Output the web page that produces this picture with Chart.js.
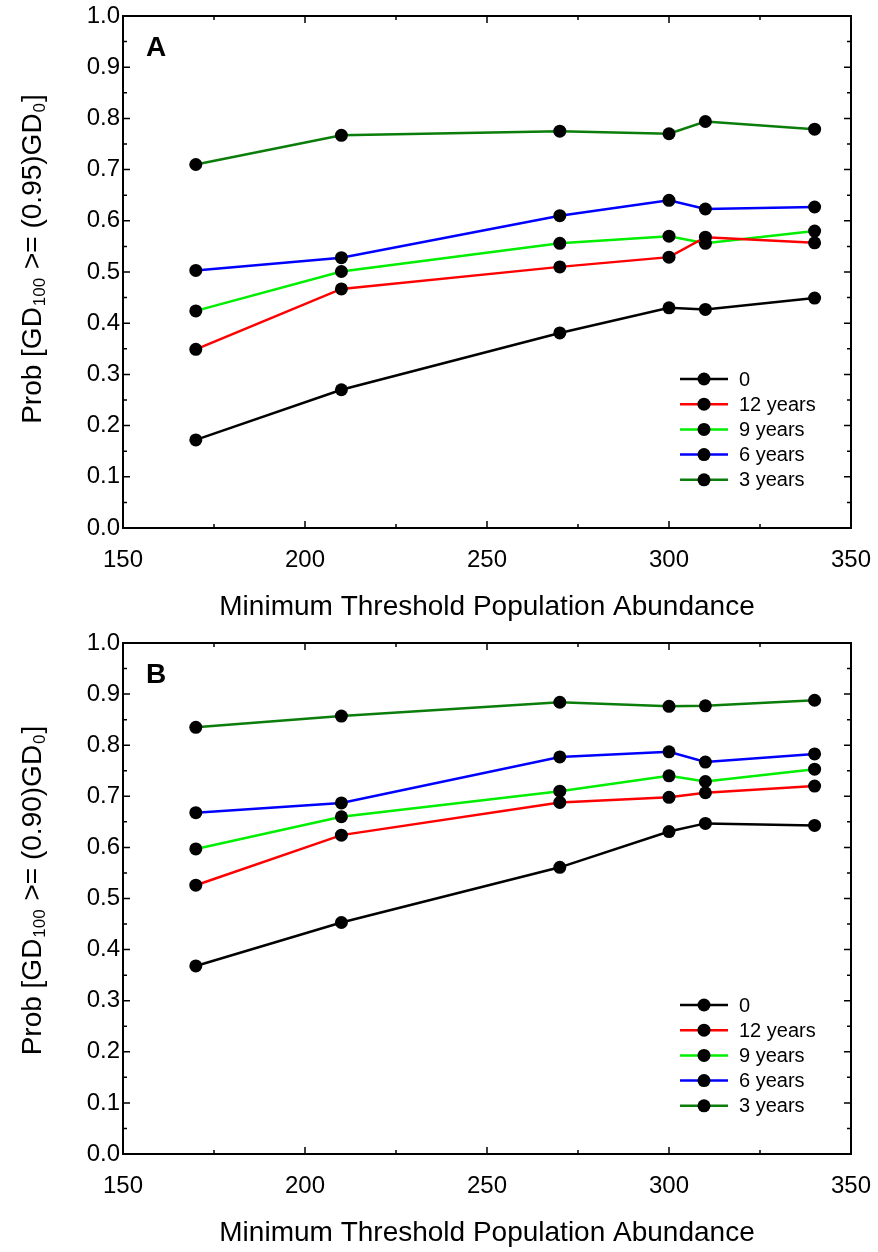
<!DOCTYPE html>
<html>
<head>
<meta charset="utf-8">
<script src="https://cdn.jsdelivr.net/npm/chart.js@4.4.1/dist/chart.umd.min.js"></script>
<style>
  html, body { margin: 0; padding: 0; background: #ffffff; }
  .panel { position: relative; width: 878px; height: 626px; }
</style>
</head>
<body>
<div class="panel"><canvas id="panelA"></canvas></div>
<div class="panel"><canvas id="panelB"></canvas></div>
<script>
// Minimum threshold population abundance (x positions of the simulations)
const thresholds = [170, 210, 270, 300, 310, 340];

// Series names and line colours
const seriesLabels = ['0', '12 years', '9 years', '6 years', '3 years'];
const seriesColors = ['#000000', '#ff0000', '#00ee00', '#0000ff', '#0a7d0a'];

// Panel A: Prob[GD100 >= (0.95)GD0]
const probA_0  = [0.172, 0.270, 0.381, 0.430, 0.427, 0.449];
const probA_12 = [0.349, 0.467, 0.510, 0.529, 0.568, 0.557];
const probA_9  = [0.424, 0.501, 0.556, 0.570, 0.556, 0.580];
const probA_6  = [0.503, 0.528, 0.610, 0.640, 0.623, 0.627];
const probA_3  = [0.710, 0.767, 0.775, 0.770, 0.794, 0.779];

// Panel B: Prob[GD100 >= (0.90)GD0]
const probB_0  = [0.368, 0.453, 0.561, 0.631, 0.647, 0.643];
const probB_12 = [0.526, 0.624, 0.688, 0.698, 0.707, 0.720];
const probB_9  = [0.597, 0.660, 0.710, 0.740, 0.729, 0.753];
const probB_6  = [0.668, 0.687, 0.777, 0.787, 0.767, 0.783];
const probB_3  = [0.835, 0.857, 0.884, 0.876, 0.877, 0.888];

// Axis tick values
const xTicks = [150, 200, 250, 300, 350];
const yTicks = [0.0, 0.1, 0.2, 0.3, 0.4, 0.5, 0.6, 0.7, 0.8, 0.9, 1.0];

const FONT = '"Liberation Sans", Arial, Helvetica, sans-serif';

// Frame with inward major/minor tick marks on all four sides
const framePlugin = {
  id: 'frameTicks',
  afterDatasetsDraw(chart) {
    const {ctx, chartArea: a, scales: {x, y}} = chart;
    ctx.save();
    ctx.strokeStyle = '#000';
    ctx.lineWidth = 1.5;
    const majorLen = 7, minorLen = 4;
    for (let v = 150; v <= 350; v += 25) {
      const px = x.getPixelForValue(v);
      const len = (v % 50 === 0) ? majorLen : minorLen;
      ctx.beginPath();
      ctx.moveTo(px, a.bottom); ctx.lineTo(px, a.bottom - len);
      ctx.moveTo(px, a.top); ctx.lineTo(px, a.top + len);
      ctx.stroke();
    }
    for (let i = 0; i <= 20; i++) {
      const py = y.getPixelForValue(i * 0.05);
      const len = (i % 2 === 0) ? majorLen : minorLen;
      ctx.beginPath();
      ctx.moveTo(a.left, py); ctx.lineTo(a.left + len, py);
      ctx.moveTo(a.right, py); ctx.lineTo(a.right - len, py);
      ctx.stroke();
    }
    ctx.lineWidth = 2;
    ctx.strokeRect(a.left, a.top, a.right - a.left, a.bottom - a.top);
    ctx.restore();
  }
};

// Legend drawn inside the plot area, lower right
const insideLegend = {
  id: 'insideLegend',
  afterDatasetsDraw(chart, args, opts) {
    const {ctx} = chart;
    ctx.save();
    ctx.font = '20px ' + FONT;
    ctx.textBaseline = 'middle';
    ctx.textAlign = 'left';
    chart.data.datasets.forEach((ds, i) => {
      const yy = opts.top + i * opts.spacing;
      ctx.strokeStyle = ds.borderColor;
      ctx.lineWidth = 2.5;
      ctx.beginPath();
      ctx.moveTo(opts.left, yy); ctx.lineTo(opts.left + 48, yy);
      ctx.stroke();
      ctx.fillStyle = '#000';
      ctx.beginPath();
      ctx.arc(opts.left + 24, yy, 6.5, 0, Math.PI * 2);
      ctx.fill();
      ctx.fillText(ds.label, opts.left + 59, yy + 1);
    });
    ctx.restore();
  }
};

// Panel letter and rotated y-axis title with subscripts
const labelsPlugin = {
  id: 'panelLabels',
  afterDraw(chart, args, opts) {
    const {ctx, chartArea: a} = chart;
    ctx.save();
    ctx.fillStyle = '#000';
    ctx.font = 'bold 28px ' + FONT;
    ctx.textBaseline = 'middle';
    ctx.textAlign = 'left';
    ctx.fillText(opts.letter, a.left + 23, a.top + 32);

    // y title pieces: [text, subscript?]
    const parts = [['Prob [GD', false], ['100', true], [' >= (' + opts.level + ')GD', false], ['0', true], [']', false]];
    const big = 28, small = 17;
    let total = 0;
    parts.forEach(p => {
      ctx.font = (p[1] ? small : big) + 'px ' + FONT;
      total += ctx.measureText(p[0]).width + (p[1] ? 2 : 0);
    });
    ctx.translate(opts.titleX, (a.top + a.bottom) / 2 + opts.titleShift);
    ctx.rotate(-Math.PI / 2);
    ctx.textBaseline = 'alphabetic';
    let cx = -total / 2;
    parts.forEach(p => {
      ctx.font = (p[1] ? small : big) + 'px ' + FONT;
      if (p[1]) cx += 1;
      ctx.fillText(p[0], cx, p[1] ? 14 : 10);
      cx += ctx.measureText(p[0]).width + (p[1] ? 1 : 0);
    });
    ctx.restore();
  }
};

function makePanel(canvasId, series, letter, level, topPad, titleShift) {
  const datasets = series.map((vals, i) => ({
    label: seriesLabels[i],
    data: thresholds.map((t, j) => ({x: t, y: vals[j]})),
    borderColor: seriesColors[i],
    backgroundColor: seriesColors[i],
    borderWidth: 2.5,
    pointRadius: 6.5,
    pointBackgroundColor: '#000',
    pointBorderWidth: 0,
    pointHoverRadius: 6.5,
    tension: 0
  }));
  const areaBottom = 528;
  return new Chart(document.getElementById(canvasId), {
    type: 'line',
    data: {datasets},
    plugins: [framePlugin, insideLegend, labelsPlugin],
    options: {
      responsive: true,
      maintainAspectRatio: false,
      animation: false,
      devicePixelRatio: 1,
      layout: {padding: {top: topPad, right: 27, left: 0, bottom: 0}},
      plugins: {
        legend: {display: false},
        tooltip: {enabled: false},
        insideLegend: {left: 680, top: areaBottom - 149, spacing: 25.2},
        panelLabels: {letter, level, titleX: 31, titleShift}
      },
      scales: {
        x: {
          type: 'linear',
          min: 150, max: 350,
          afterBuildTicks: s => { s.ticks = xTicks.map(v => ({value: v})); },
          afterFit: s => {
            s.height = 626 - areaBottom;
            s.paddingLeft = 0;
            s.paddingRight = 0;
          },
          grid: {display: false, drawTicks: false},
          border: {display: false},
          ticks: {
            color: '#000', padding: 18, maxRotation: 0, autoSkip: false,
            font: {family: FONT, size: 24},
            callback: v => String(v)
          },
          title: {
            display: true, text: 'Minimum Threshold Population Abundance',
            color: '#000', font: {family: FONT, size: 28, lineHeight: 1.2},
            padding: {top: 0, bottom: 2}
          }
        },
        y: {
          type: 'linear',
          min: 0, max: 1,
          afterBuildTicks: s => { s.ticks = yTicks.map(v => ({value: v})); },
          afterFit: s => {
            s.width = 123;
            s.paddingTop = 0;
            s.paddingBottom = 0;
          },
          grid: {display: false, drawTicks: false},
          border: {display: false},
          ticks: {
            color: '#000', padding: 3, autoSkip: false,
            font: {family: FONT, size: 24},
            callback: v => Number(v).toFixed(1)
          }
        }
      }
    }
  });
}

makePanel('panelA', [probA_0, probA_12, probA_9, probA_6, probA_3], 'A', '0.95', 16, -13);
makePanel('panelB', [probB_0, probB_12, probB_9, probB_6, probB_3], 'B', '0.90', 17, -8);
</script>
</body>
</html>
